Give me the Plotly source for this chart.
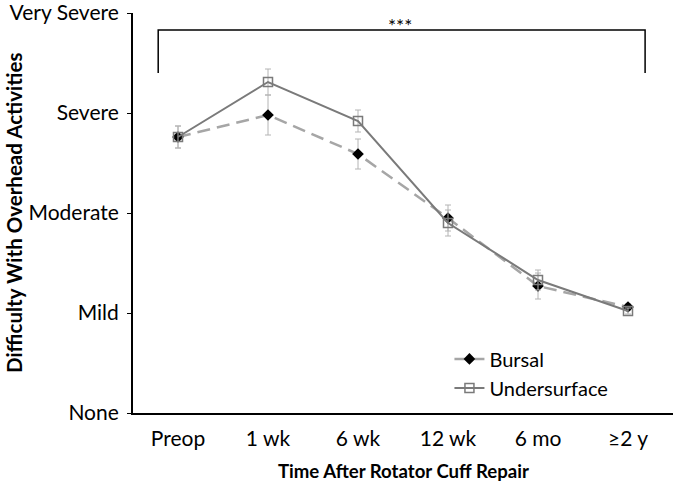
import plotly.graph_objects as go

categories = ["Preop", "1 wk", "6 wk", "12 wk", "6 mo", "≥2 y"]
bursal = [2.76, 2.98, 2.59, 1.95, 1.27, 1.06]
bursal_err = [0.11, 0.20, 0.15, 0.13, 0.13, 0.03]
under = [2.76, 3.31, 2.92, 1.90, 1.33, 1.02]
under_err = [0.11, 0.13, 0.11, 0.13, 0.10, 0.03]
y_ticks = [0, 1, 2, 3, 4]
y_labels = ["None", "Mild", "Moderate", "Severe", "Very Severe"]

FONT = "Lato"

fig = go.Figure()
fig.add_trace(go.Scatter(
    x=categories, y=bursal, name="Bursal", mode="lines+markers",
    line=dict(color="#a6a6a6", width=2.5, dash="13px,7px"),
    marker=dict(symbol="diamond", color="black", size=9),
    error_y=dict(type="data", array=bursal_err, color="#b4b4b4", thickness=1, width=3),
))
fig.add_trace(go.Scatter(
    x=categories, y=under, name="Undersurface", mode="lines+markers",
    line=dict(color="#7a7a7a", width=2),
    marker=dict(symbol="square-open", color="#7a7a7a", size=9, line=dict(width=1.5)),
    error_y=dict(type="data", array=under_err, color="#b4b4b4", thickness=1, width=3),
))

# significance bracket
fig.add_shape(type="path", xref="x", yref="y",
              path="M -0.22,3.4 L -0.22,3.83 L 5.19,3.83 L 5.19,3.4",
              line=dict(color="black", width=1.5))
fig.add_annotation(x=2.47, y=3.88, xref="x", yref="y", text="***", showarrow=False,
                   yanchor="middle", font=dict(size=19, color="black", family=FONT))

# axis titles as annotations for precise placement
fig.add_annotation(x=0, y=0.5, xref="paper", yref="paper", xanchor="center", yanchor="middle",
                   xshift=-119,
                   text="<b>Difficulty With Overhead Activities</b>",
                   showarrow=False, textangle=-90, font=dict(size=20.5, family=FONT, color="black"))
fig.add_annotation(x=0.5, y=0, xref="paper", yref="paper", yanchor="middle", yshift=-58,
                   text="<b>Time After Rotator Cuff Repair</b>",
                   showarrow=False, font=dict(size=18.6, family=FONT, color="black"))

fig.update_layout(
    width=674, height=491,
    margin=dict(l=133, r=1, t=13, b=78, autoexpand=False),
    paper_bgcolor="white", plot_bgcolor="white",
    font=dict(family=FONT, size=21, color="black"),
    showlegend=True,
    legend=dict(x=0.586, y=0.184, xanchor="left", yanchor="top",
                font=dict(size=20), bgcolor="rgba(0,0,0,0)",
                tracegroupgap=0),
    xaxis=dict(
        type="category", range=[-0.5, 5.5], showgrid=False, automargin=False,
        showline=True, linecolor="black", linewidth=2, ticks="",
        tickfont=dict(size=21), ticklabelstandoff=6,
    ),
    yaxis=dict(
        range=[0, 4.0001], tickvals=y_ticks, ticktext=y_labels, showgrid=False,
        zeroline=False, showline=True, linecolor="black", linewidth=2, automargin=False,
        ticks="outside", ticklen=4, tickcolor="black", ticklabeloverflow="allow",
        tickfont=dict(size=21), ticklabelstandoff=4,
    ),
)

fig.write_html("out.html", config={"displayModeBar": False},
               post_script="document.body.style.margin='0';")
